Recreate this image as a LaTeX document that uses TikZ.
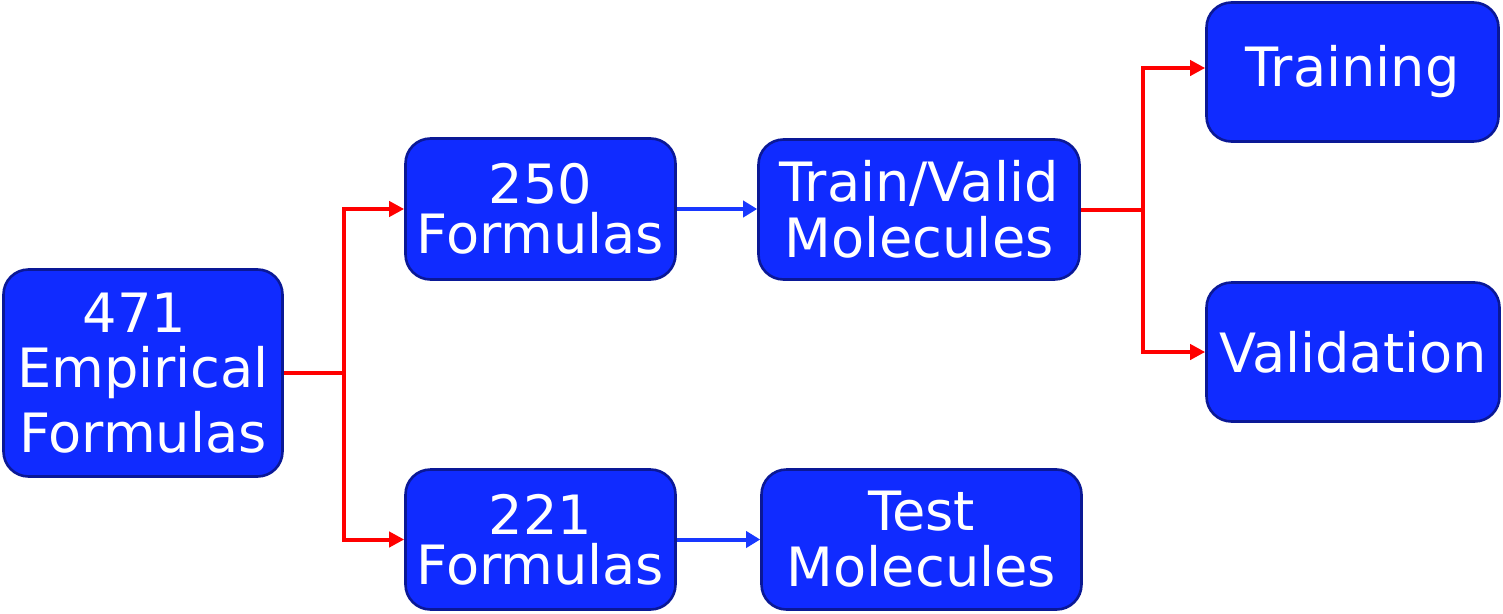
\documentclass[tikz,border=0pt]{standalone}
\usepackage{fontspec}
\setmainfont{DejaVu Sans}
\usetikzlibrary{arrows.meta}
\definecolor{boxfill}{RGB}{16,43,255}
\definecolor{boxline}{RGB}{10,24,150}
\definecolor{bluearr}{RGB}{24,56,255}
\definecolor{redarr}{RGB}{255,0,0}
\tikzset{
  box/.style={draw=boxline, fill=boxfill, line width=2.6pt, rounded corners=25pt,
    text=white, align=center, inner sep=0pt,
    font={\fontsize{54.2}{50}\selectfont}},
  redline/.style={draw=redarr, line width=4pt, line join=miter,
    -{Triangle[length=15pt,width=15pt]}},
  blueline/.style={draw=bluearr, line width=4pt,
    -{Triangle[length=14pt,width=16pt]}}
}
\begin{document}
\begin{tikzpicture}[x=1pt,y=-1pt]
\useasboundingbox (0,0) rectangle (1503,613);
\node[box, minimum width=279pt, minimum height=207pt] (A) at (143,373) {471\hspace*{17pt}\\[5pt]Empirical\\[12pt]Formulas};
\node[box, minimum width=270pt, minimum height=141pt] (B) at (540.5,209) {250\\Formulas};
\node[box, minimum width=270pt, minimum height=140pt] (C) at (540.5,539.5) {221\\Formulas};
\node[box, minimum width=321pt, minimum height=140pt] (D) at (919,209.5) {Train/Valid\\[6pt]Molecules};
\node[box, minimum width=320pt, minimum height=140pt] (E) at (921.5,539.5) {Test\\[6pt]Molecules};
\node[box, minimum width=292pt, minimum height=139pt] (F) at (1352.5,72) {Training};
\node[box, minimum width=293pt, minimum height=139pt] (G) at (1353,352) {Validation};
% red split from A
\draw[redline] (A.east) -- ++(60,0) coordinate (j1) |- (B.west);
\draw[redline] (j1) |- (C.west);
% blue arrows
\draw[blueline] (B.east) -- (D.west |- B.east);
\draw[blueline] (C.east) -- (E.west |- C.east);
% red split from D
\draw[redline] (D.east) -- ++(62,0) coordinate (j2) |- ([yshift=4pt]F.west);
\draw[redline] (j2) |- (G.west);
\end{tikzpicture}
\end{document}
